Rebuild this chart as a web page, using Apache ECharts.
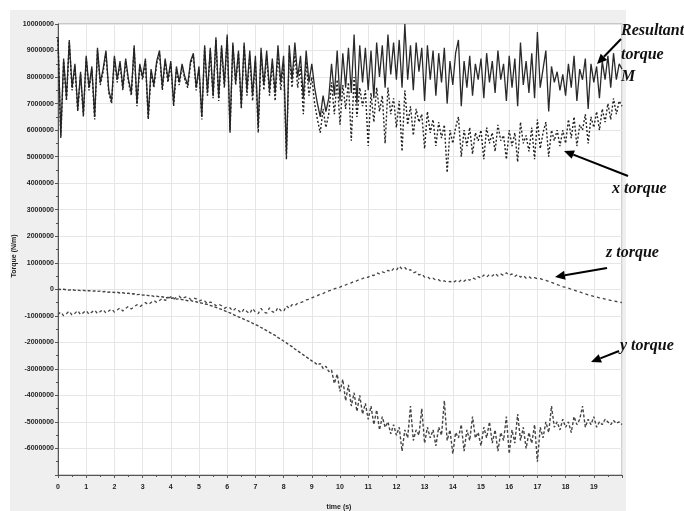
<!DOCTYPE html>
<html><head><meta charset="utf-8">
<script src="https://cdn.jsdelivr.net/npm/echarts@6/dist/echarts.min.js"></script>
<style>html,body{margin:0;padding:0;background:#fff}#c{width:684px;height:511px}</style>
</head><body><div id="c"></div>
<script>
// sampling step of every series (s); values are in millions of N·m
const timeStep = 0.1;
const unit = 1e6;

const resultantM = [
 9.5,5.8,8.7,7.2,9.4,7.6,8.5,6.8,8.2,6.6,
 8.8,7.6,8.4,6.5,9.1,7.8,8.3,9.0,7.5,7.1,
 8.8,7.9,8.6,7.6,8.7,7.9,7.4,9.2,7.0,8.5,
 8.0,8.7,6.5,8.3,7.7,8.6,9.0,7.6,8.7,7.9,
 8.6,7.0,8.4,7.8,8.5,8.0,7.7,8.6,8.9,7.6,
 8.4,6.5,9.2,7.4,9.1,7.3,9.5,7.2,9.2,7.7,
 9.6,6.0,9.3,7.8,9.0,6.9,9.3,7.5,9.0,7.3,
 8.8,6.1,9.1,7.7,9.0,7.5,8.7,7.4,9.2,7.8,
 8.8,5.1,9.2,7.9,9.3,8.0,8.8,7.2,9.0,7.8,
 8.5,7.6,7.0,6.5,7.3,6.7,7.2,8.5,7.3,9.0,
 7.1,8.9,7.6,9.1,7.4,9.6,7.0,9.2,7.8,9.1,
 7.5,9.0,7.2,9.3,8.0,9.2,7.6,9.6,8.1,9.3,
 7.9,9.4,7.6,10.0,7.9,9.2,7.5,9.3,8.2,9.1,
 7.1,9.2,7.9,9.0,7.3,8.9,7.8,9.1,7.0,8.6,
 7.7,8.9,9.4,6.9,8.6,7.6,8.8,7.3,8.5,7.9,
 8.7,7.2,8.9,7.8,8.6,7.4,9.0,7.9,8.5,7.1,
 8.8,7.6,8.7,6.9,9.3,7.7,8.6,7.4,8.9,7.2,
 9.7,7.6,8.3,9.0,6.7,8.4,7.8,8.2,7.5,8.1,
 7.3,8.5,7.6,8.8,7.1,8.3,7.9,8.7,6.8,8.5,
 7.8,8.4,7.2,8.6,7.9,8.8,7.6,8.9,7.9,8.5,
 8.3
];

const xTorque = [
 9.4,5.7,8.6,7.1,9.3,7.5,8.4,6.7,8.1,6.5,
 8.7,7.5,8.3,6.4,9.0,7.7,8.2,8.9,7.4,7.0,
 8.7,7.8,8.5,7.5,8.6,7.8,7.3,9.1,6.9,8.4,
 7.9,8.6,6.4,8.2,7.6,8.5,8.9,7.5,8.6,7.8,
 8.5,6.9,8.3,7.7,8.4,7.9,7.6,8.5,8.8,7.5,
 8.3,6.4,9.1,7.3,9.0,7.2,9.4,7.1,9.1,7.6,
 9.5,5.9,9.2,7.7,8.9,6.8,9.2,7.3,8.8,7.1,
 8.6,5.9,8.9,7.5,8.8,7.3,8.5,7.1,8.9,7.5,
 8.5,4.9,8.9,7.6,8.9,7.6,8.4,6.6,8.6,7.3,
 8.0,7.0,6.4,5.9,6.8,6.1,6.6,7.8,6.6,7.9,
 6.2,7.7,6.8,7.8,5.6,8.0,6.5,7.6,6.9,7.5,
 5.4,7.4,6.3,7.6,6.7,7.3,5.5,7.6,6.6,7.2,
 6.1,7.1,5.2,7.5,6.2,6.9,5.8,6.8,6.3,6.6,
 5.3,6.7,5.9,6.4,5.4,6.3,5.7,6.2,4.4,6.0,
 5.5,6.1,6.5,5.0,6.0,5.4,6.1,5.1,5.9,5.6,
 6.0,4.9,6.1,5.5,5.9,5.2,6.2,5.6,5.8,4.9,
 6.0,5.4,5.9,4.8,6.3,5.5,5.8,5.2,6.1,4.9,
 6.4,5.3,5.9,6.3,5.0,6.0,5.6,6.0,5.4,6.0,
 5.5,6.4,5.7,6.5,5.4,6.2,6.0,6.6,5.5,6.5,
 6.1,6.7,6.0,6.8,6.3,7.0,6.4,7.2,6.6,7.1,
 6.9
];

const yTorque = [
 0.00,-0.01,0.00,-0.02,-0.03,-0.01,-0.04,-0.03,-0.05,-0.04,
 -0.06,-0.05,-0.07,-0.06,-0.08,-0.07,-0.09,-0.08,-0.11,-0.10,
 -0.12,-0.11,-0.14,-0.13,-0.16,-0.15,-0.18,-0.17,-0.20,-0.19,
 -0.22,-0.21,-0.24,-0.23,-0.27,-0.26,-0.29,-0.28,-0.32,-0.31,
 -0.34,-0.33,-0.37,-0.36,-0.39,-0.40,-0.43,-0.42,-0.46,-0.47,
 -0.50,-0.52,-0.55,-0.57,-0.61,-0.64,-0.68,-0.72,-0.76,-0.80,
 -0.85,-0.89,-0.94,-0.99,-1.04,-1.08,-1.13,-1.18,-1.22,-1.28,
 -1.33,-1.38,-1.44,-1.50,-1.56,-1.62,-1.68,-1.74,-1.82,-1.88,
 -1.95,-2.02,-2.10,-2.16,-2.25,-2.32,-2.40,-2.47,-2.55,-2.62,
 -2.70,-2.76,-2.85,-2.80,-2.98,-2.90,-3.10,-3.05,-3.55,-3.20,
 -3.85,-3.40,-4.20,-3.60,-4.40,-3.90,-4.60,-4.00,-4.70,-4.30,
 -4.90,-4.40,-5.10,-4.55,-5.30,-4.80,-5.20,-5.00,-5.45,-5.10,
 -5.50,-5.20,-6.10,-5.30,-5.60,-4.40,-5.70,-5.30,-5.50,-4.50,
 -5.80,-5.20,-5.60,-5.30,-5.90,-5.20,-5.50,-4.20,-5.70,-5.30,
 -6.20,-5.40,-5.60,-5.10,-6.10,-5.30,-5.70,-4.80,-5.60,-5.40,
 -5.90,-5.20,-5.60,-5.00,-5.80,-5.30,-6.10,-5.40,-5.70,-4.80,
 -6.20,-5.30,-5.80,-4.70,-5.70,-5.20,-6.00,-5.40,-5.80,-5.10,
 -6.50,-5.20,-5.60,-5.00,-5.40,-4.40,-5.20,-5.00,-5.30,-4.90,
 -5.20,-5.00,-5.40,-4.80,-5.10,-4.90,-4.40,-5.20,-4.90,-5.10,
 -4.80,-5.20,-5.00,-5.10,-4.90,-5.00,-5.10,-4.95,-5.05,-5.00,
 -5.10
];

const zTorque = [
 -0.95,-0.85,-1.00,-0.92,-0.82,-0.98,-0.90,-0.80,-0.96,-0.88,
 -0.80,-0.95,-0.86,-0.78,-0.92,-0.84,-0.76,-0.90,-0.82,-0.74,
 -0.86,-0.78,-0.70,-0.82,-0.72,-0.64,-0.74,-0.66,-0.58,-0.66,
 -0.58,-0.50,-0.58,-0.50,-0.42,-0.50,-0.42,-0.34,-0.42,-0.35,
 -0.28,-0.37,-0.30,-0.26,-0.36,-0.30,-0.28,-0.38,-0.33,-0.36,
 -0.45,-0.40,-0.44,-0.54,-0.48,-0.52,-0.62,-0.56,-0.62,-0.72,
 -0.66,-0.70,-0.82,-0.72,-0.80,-0.90,-0.74,-0.84,-0.92,-0.72,
 -0.86,-0.92,-0.72,-0.86,-0.90,-0.70,-0.84,-0.88,-0.68,-0.80,
 -0.84,-0.62,-0.72,-0.58,-0.62,-0.52,-0.50,-0.46,-0.40,-0.38,
 -0.32,-0.28,-0.24,-0.18,-0.16,-0.10,-0.06,-0.04,0.02,0.05,
 0.08,0.14,0.16,0.22,0.24,0.30,0.32,0.38,0.40,0.46,
 0.45,0.54,0.52,0.62,0.58,0.66,0.62,0.72,0.66,0.78,
 0.72,0.88,0.76,0.82,0.70,0.74,0.62,0.66,0.54,0.58,
 0.46,0.48,0.38,0.42,0.34,0.36,0.28,0.32,0.26,0.30,
 0.24,0.32,0.26,0.36,0.30,0.40,0.34,0.44,0.38,0.48,
 0.42,0.54,0.46,0.56,0.50,0.60,0.50,0.58,0.52,0.62,
 0.52,0.58,0.48,0.56,0.46,0.52,0.42,0.48,0.40,0.44,
 0.40,0.40,0.36,0.34,0.30,0.26,0.22,0.18,0.14,0.10,
 0.07,0.04,0.00,-0.03,-0.07,-0.10,-0.14,-0.17,-0.21,-0.24,
 -0.27,-0.29,-0.32,-0.34,-0.37,-0.39,-0.42,-0.44,-0.46,-0.48,
 -0.50
];

const xAxisName = 'time (s)';
const yAxisName = 'Torque (N/m)';
const notes = {
  M: ['Resultant', 'torque', 'M'],
  x: 'x torque',
  z: 'z torque',
  y: 'y torque'
};

function pairs(arr) {
  return arr.map((v, i) => [Math.round(i * timeStep * 10) / 10, v * unit]);
}

function arrow(x1, y1, x2, y2) {
  const dx = x2 - x1, dy = y2 - y1, L = Math.hypot(dx, dy);
  const ux = dx / L, uy = dy / L, hl = 10, hw = 4.5;
  const bx = x2 - ux * hl, by = y2 - uy * hl;
  return [
    { type: 'line', z: 100, shape: { x1, y1, x2: bx, y2: by }, style: { stroke: '#000', lineWidth: 2 } },
    { type: 'polygon', z: 100, shape: { points: [[x2, y2], [bx - uy * hw, by + ux * hw], [bx + uy * hw, by - ux * hw]] }, style: { fill: '#000' } }
  ];
}

const noteFont = 'italic bold 16px "Liberation Serif"';
function note(text, x, y) {
  return { type: 'text', z: 100, x, y, style: { text, font: noteFont, fill: '#111', align: 'left', verticalAlign: 'middle' } };
}

const axisFont = { fontSize: 7, fontWeight: 'bold', color: '#222', fontFamily: 'Liberation Sans' };

const chart = echarts.init(document.getElementById('c'));
chart.setOption({
  animation: false,
  backgroundColor: '#fff',
  grid: { left: 58, right: 62, top: 24, bottom: 36, show: true, backgroundColor: '#fff', borderColor: '#a0a0a0', borderWidth: 1 },
  xAxis: {
    type: 'value', min: 0, max: 20, interval: 1,
    axisLine: { show: true, onZero: false, lineStyle: { color: '#555', width: 1 } },
    axisTick: { show: true, length: 3, lineStyle: { color: '#555' } },
    minorTick: { show: true, splitNumber: 2, length: 2, lineStyle: { color: '#555' } },
    axisLabel: Object.assign({ showMaxLabel: false, margin: 9 }, axisFont),
    splitLine: { show: true, lineStyle: { color: '#e6e6e6', width: 1 } }
  },
  yAxis: {
    type: 'value', min: -7 * unit, max: 10 * unit, interval: unit,
    axisLine: { show: true, onZero: false, lineStyle: { color: '#555', width: 1 } },
    axisTick: { show: true, length: 3, lineStyle: { color: '#555' } },
    minorTick: { show: true, splitNumber: 2, length: 2, lineStyle: { color: '#555' } },
    axisLabel: Object.assign({ showMinLabel: false, margin: 4, formatter: v => String(Math.round(v)) }, axisFont),
    splitLine: { show: true, lineStyle: { color: '#e6e6e6', width: 1 } }
  },
  graphic: { elements: [
    { type: 'rect', z: -10, shape: { x: 10, y: 10, width: 616, height: 510 }, style: { fill: '#efefef' } },
    { type: 'text', z: 100, x: 14, y: 256, rotation: Math.PI / 2, style: { text: yAxisName, font: 'bold 7px "Liberation Sans"', fill: '#222', align: 'center', verticalAlign: 'middle' } },
    { type: 'text', z: 100, x: 339, y: 507, style: { text: xAxisName, font: 'bold 7px "Liberation Sans"', fill: '#222', align: 'center', verticalAlign: 'middle' } },
    note(notes.M[0], 621, 31), note(notes.M[1], 621, 55), note(notes.M[2], 621, 77),
    note(notes.x, 612, 189), note(notes.z, 606, 253), note(notes.y, 620, 346),
    ...arrow(621, 39, 597, 64),
    ...arrow(628, 176, 564, 151),
    ...arrow(607, 268, 555, 277),
    ...arrow(619, 351, 591, 362)
  ] },
  series: [
    { name: 'z torque', type: 'line', symbol: 'none', data: pairs(zTorque), lineStyle: { color: '#444', width: 1.3, type: [3, 3] } },
    { name: 'y torque', type: 'line', symbol: 'none', data: pairs(yTorque), lineStyle: { color: '#444', width: 1.4, type: [3, 2] } },
    { name: 'Resultant torque M', type: 'line', symbol: 'none', data: pairs(resultantM), lineStyle: { color: '#2a2a2a', width: 1.3 } },
    { name: 'x torque', type: 'line', symbol: 'none', data: pairs(xTorque), lineStyle: { color: '#222', width: 1.4, type: [2, 2] } }
  ]
});
</script>
</body></html>
